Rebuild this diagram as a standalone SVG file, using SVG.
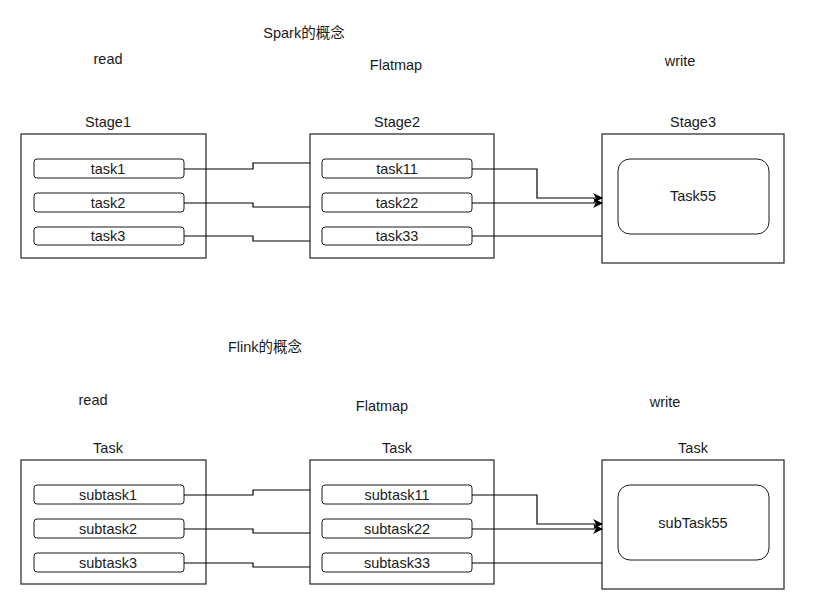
<svg xmlns="http://www.w3.org/2000/svg" width="833" height="611" viewBox="0 0 833 611">
<style>
text{font-family:"Liberation Sans",Arial,"Noto Sans CJK SC",sans-serif;font-size:14.5px;fill:#1a1a1a;text-anchor:middle;dominant-baseline:central}
.box{fill:#fff;stroke:#333;stroke-width:1.3}
.task{fill:#fff;stroke:#1a1a1a;stroke-width:1}
.edge{fill:none;stroke:#000;stroke-width:1.2}
</style>
<defs>
<marker id="arr" viewBox="0 0 10 10" refX="9" refY="5" markerWidth="10" markerHeight="10" markerUnits="userSpaceOnUse" orient="auto">
<path d="M0,0 L10,5 L0,10 L3,5 Z" fill="#000"/>
</marker>
</defs>
<rect width="833" height="611" fill="#fff"/>
<g id="labels">
<text x="304" y="33">Spark的概念</text>
<text x="108" y="59">read</text>
<text x="396" y="65">Flatmap</text>
<text x="680" y="61">write</text>
<text x="265" y="347">Flink的概念</text>
<text x="93" y="400">read</text>
<text x="382" y="406">Flatmap</text>
<text x="665" y="402">write</text>
</g>
<g id="stage1">
<text x="108" y="122">Stage1</text>
<rect class="box" x="21" y="134" width="185" height="124"/>
<rect class="task" x="34" y="159" width="150" height="19" rx="3"/><text x="108" y="169">task1</text>
<rect class="task" x="34" y="193" width="150" height="19" rx="3"/><text x="108" y="203">task2</text>
<rect class="task" x="34" y="227" width="150" height="18" rx="3"/><text x="108" y="236">task3</text>
</g>
<g id="stage2">
<text x="397" y="122">Stage2</text>
<rect class="box" x="310" y="134" width="184" height="124"/>
<rect class="task" x="322" y="159" width="150" height="19" rx="3"/><text x="397" y="169">task11</text>
<rect class="task" x="322" y="193" width="150" height="19" rx="3"/><text x="397" y="203">task22</text>
<rect class="task" x="322" y="227" width="150" height="18" rx="3"/><text x="397" y="236">task33</text>
</g>
<g id="stage3">
<text x="693" y="122">Stage3</text>
<rect class="box" x="602" y="134" width="182" height="129"/>
<rect class="task" x="618" y="159" width="151" height="75" rx="12"/><text x="693" y="196">Task55</text>
</g>
<g id="task1">
<text x="108" y="448">Task</text>
<rect class="box" x="21" y="460" width="185" height="124"/>
<rect class="task" x="34" y="485" width="150" height="19" rx="3"/><text x="108" y="495">subtask1</text>
<rect class="task" x="34" y="519" width="150" height="19" rx="3"/><text x="108" y="529">subtask2</text>
<rect class="task" x="34" y="553" width="150" height="19" rx="3"/><text x="108" y="563">subtask3</text>
</g>
<g id="task2">
<text x="397" y="448">Task</text>
<rect class="box" x="310" y="460" width="184" height="124"/>
<rect class="task" x="322" y="485" width="150" height="19" rx="3"/><text x="397" y="495">subtask11</text>
<rect class="task" x="322" y="519" width="150" height="19" rx="3"/><text x="397" y="529">subtask22</text>
<rect class="task" x="322" y="553" width="150" height="19" rx="3"/><text x="397" y="563">subtask33</text>
</g>
<g id="task3">
<text x="693" y="448">Task</text>
<rect class="box" x="602" y="460" width="182" height="129"/>
<rect class="task" x="618" y="485" width="151" height="75" rx="12"/><text x="693" y="523">subTask55</text>
</g>
<g id="connectors">
<path class="edge" d="M184,169 H253 V163 H310"/>
<path class="edge" d="M184,203 H253 V207 H310"/>
<path class="edge" d="M184,236 H253 V241 H310"/>
<path class="edge" d="M472,169 H537 V198 H602" marker-end="url(#arr)"/>
<path class="edge" d="M472,203 H602" marker-end="url(#arr)"/>
<path class="edge" d="M472,236 H602"/>
<path class="edge" d="M184,495 H253 V490 H310"/>
<path class="edge" d="M184,529 H253 V533 H310"/>
<path class="edge" d="M184,563 H253 V567 H310"/>
<path class="edge" d="M472,495 H537 V524 H602" marker-end="url(#arr)"/>
<path class="edge" d="M472,529 H602" marker-end="url(#arr)"/>
<path class="edge" d="M472,563 H602"/>
</g>
</svg>
